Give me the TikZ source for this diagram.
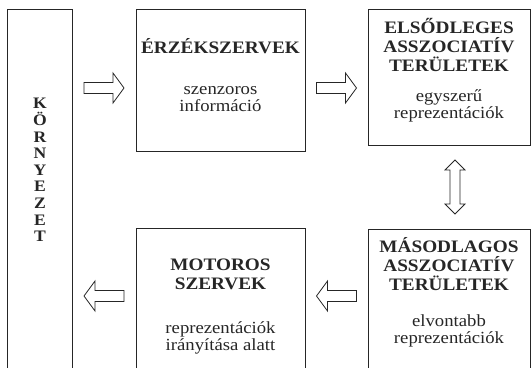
\documentclass[tikz,border=0pt]{standalone}
\usepackage{fontspec}
\setmainfont{Liberation Serif}
\newfontfamily\widefont[FakeStretch=1.1]{Liberation Serif}
\usetikzlibrary{calc}
\begin{document}
\begin{tikzpicture}[x=1pt,y=-1pt,
  boxline/.style={draw=black!85,line width=1pt},
  blk/.style={boxline,rectangle,inner sep=0pt},
  head/.style={font=\widefont\fontsize{17.5}{19}\selectfont\bfseries,align=center,text=black!85,inner sep=0pt},
  body/.style={font=\widefont\fontsize{17}{17}\selectfont,align=center,text=black!85,inner sep=0pt},
  arrowline/.style={draw=black!85,line width=0.8pt,fill=white,line join=miter},
  hollow/.pic={\path[arrowline] (-20,-5.5) -- (9,-5.5) -- (9,-15) -- (20,0) -- (9,15) -- (9,5.5) -- (-20,5.5) -- cycle;},
  hollowdouble/.pic={\path[arrowline] (0,-27) -- (10,-17) -- (5,-17) -- (5,17) -- (10,17) -- (0,27) -- (-10,17) -- (-5,17) -- (-5,-17) -- (-10,-17) -- cycle;}
]
\useasboundingbox (0,0) rectangle (532,367);
% boxes
\node[blk,minimum width=65,minimum height=391] (env) at (39.5,204.5) {};
\node[blk,minimum width=169,minimum height=142] (erz) at (220.5,80) {};
\node[blk,minimum width=162,minimum height=136] (elso) at (449,77) {};
\node[blk,minimum width=162,minimum height=171] (maso) at (449,314.5) {};
\node[blk,minimum width=169,minimum height=172] (mot) at (220.5,314) {};
% texts
\node[font=\widefont\fontsize{16}{16.6}\selectfont\bfseries,align=center,text=black!85,inner sep=0pt] (envt) at (40,170)
  {K\\Ö\\R\\N\\Y\\E\\Z\\E\\T};
\node[head] (erzh) at (220.5,46) {ÉRZÉKSZERVEK};
\node[body] (erzb) at (220.5,99) {szenzoros\\információ};
\node[head] (elsoh) at (449,45) {ELSŐDLEGES\\ASSZOCIATÍV\\TERÜLETEK};
\node[body] (elsob) at (449,106) {egyszerű\\reprezentációk};
\node[head] (masoh) at (449,264) {MÁSODLAGOS\\ASSZOCIATÍV\\TERÜLETEK};
\node[body] (masob) at (449,331) {elvontabb\\reprezentációk};
\node[head] (moth) at (220.5,274) {MOTOROS\\SZERVEK};
\node[body] (motb) at (220.5,338) {reprezentációk\\irányítása alatt};
% connectors (hollow block arrows)
\coordinate (a1) at ($(env.east)!0.5!(erz.west)$);
\pic at (a1 |- 0,88) {hollow};
\coordinate (a2) at ($(erz.east)!0.5!(elso.west)$);
\pic at (a2 |- 0,88) {hollow};
\coordinate (a3) at ($(elso.south)!0.5!(maso.north)$);
\pic at (a3 -| 455,0) {hollowdouble};
\coordinate (a4) at ($(mot.east)!0.5!(maso.west)$);
\pic[rotate=180] at (a4 |- 0,296) {hollow};
\coordinate (a5) at ($(env.east)!0.5!(mot.west)$);
\pic[rotate=180] at (a5 |- 0,296) {hollow};
\end{tikzpicture}
\end{document}
